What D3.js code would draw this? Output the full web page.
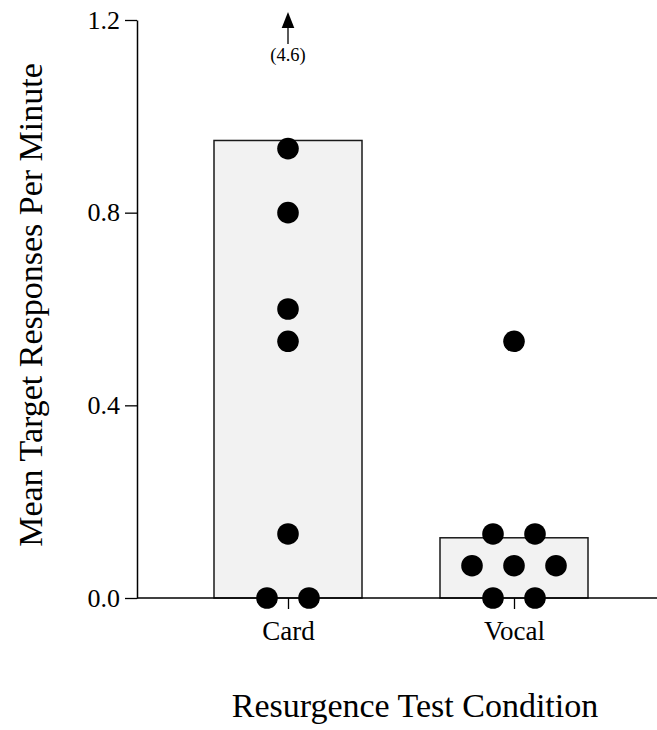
<!DOCTYPE html>
<html>
<head>
<meta charset="utf-8">
<script src="https://cdn.jsdelivr.net/npm/d3@7"></script>
<style>
  html, body { margin: 0; padding: 0; background: #fff; }
  svg { display: block; }
  text { font-family: "Liberation Serif", "Times New Roman", serif; fill: #000; }
</style>
</head>
<body>
<svg id="chart" width="657" height="730"></svg>
<script>
// Resurgence test: individual subject rates per condition
const categories = ["Card", "Vocal"];
const cardValues = [4.6, 0.933, 0.8, 0.6, 0.533, 0.133, 0, 0];
const vocalValues = [0.533, 0.133, 0.133, 0.067, 0.067, 0.067, 0, 0];
const yTicks = [0, 0.4, 0.8, 1.2];
const yTickLabels = ["0.0", "0.4", "0.8", "1.2"];

const seriesByCategory = { Card: cardValues, Vocal: vocalValues };
const means = categories.map(c => ({ cat: c, mean: d3.mean(seriesByCategory[c]) }));

const svg = d3.select("#chart");
const plotLeft = 137, plotRight = 657, plotTop = 20, plotBottom = 598;
const yMax = 1.2;

const y = d3.scaleLinear().domain([0, yMax]).range([plotBottom, plotTop]);
const x = d3.scalePoint().domain(categories).range([288, 514]);
const barHalf = 74;
const r = 10.8;
const spread = 42;   // horizontal gap between coinciding points

// bars at the condition means
svg.selectAll("rect.bar").data(means).join("rect")
  .attr("class", "bar")
  .attr("x", d => x(d.cat) - barHalf)
  .attr("width", barHalf * 2)
  .attr("y", d => y(d.mean))
  .attr("height", d => y(0) - y(d.mean))
  .attr("fill", "#f2f2f2")
  .attr("stroke", "#1a1a1a")
  .attr("stroke-width", 1.5);

// x axis line and ticks
svg.append("line")
  .attr("x1", plotLeft).attr("x2", plotRight)
  .attr("y1", plotBottom).attr("y2", plotBottom)
  .attr("stroke", "#000").attr("stroke-width", 1.5);

const xAxis = svg.append("g").attr("transform", `translate(0,${plotBottom})`)
  .call(d3.axisBottom(x).tickSize(11).tickPadding(12));
xAxis.select(".domain").remove();
xAxis.selectAll(".tick line").attr("stroke", "#000").attr("stroke-width", 1.3);
xAxis.selectAll(".tick text")
  .style("font-family", "Liberation Serif").style("font-size", "27px");

// y axis
const yAxis = svg.append("g").attr("transform", `translate(${plotLeft},0)`)
  .call(d3.axisLeft(y).tickValues(yTicks).tickFormat((d, i) => yTickLabels[i])
    .tickSize(12).tickPadding(5).tickSizeOuter(0));
yAxis.select(".domain").attr("stroke", "#000").attr("stroke-width", 1.5);
yAxis.selectAll(".tick line").attr("stroke", "#000").attr("stroke-width", 1.3);
yAxis.selectAll(".tick text")
  .style("font-family", "Liberation Serif").style("font-size", "26px");

// individual points, spread sideways where values coincide
const points = [];
categories.forEach(c => {
  const vals = seriesByCategory[c];
  const groups = d3.group(vals, v => v);
  groups.forEach((arr, v) => {
    const n = arr.length;
    arr.forEach((_, i) => points.push({ cat: c, value: v, offset: i - (n - 1) / 2 }));
  });
});

const shown = points.filter(p => p.value <= yMax);
const offScale = points.filter(p => p.value > yMax);

svg.selectAll("circle.pt").data(shown).join("circle")
  .attr("class", "pt")
  .attr("cx", d => x(d.cat) + d.offset * spread)
  .attr("cy", d => y(d.value))
  .attr("r", r)
  .attr("fill", "#000");

// values beyond the axis: arrow pointing up with the value in parentheses
offScale.forEach(p => {
  const cx = x(p.cat) + p.offset * spread;
  const g = svg.append("g");
  g.append("line")
    .attr("x1", cx).attr("x2", cx)
    .attr("y1", 26).attr("y2", 44)
    .attr("stroke", "#000").attr("stroke-width", 1.3);
  g.append("path")
    .attr("d", `M${cx},12 L${cx - 6.3},28 L${cx + 6.3},28 Z`)
    .attr("fill", "#000");
  g.append("text")
    .attr("x", cx).attr("y", 61)
    .attr("text-anchor", "middle")
    .style("font-size", "18.5px")
    .text(`(${p.value})`);
});

// axis titles
svg.append("text")
  .attr("x", 415).attr("y", 717)
  .attr("text-anchor", "middle")
  .style("font-size", "34px")
  .text("Resurgence Test Condition");

svg.append("text")
  .attr("transform", `translate(42,305) rotate(-90)`)
  .attr("text-anchor", "middle")
  .style("font-size", "34px")
  .text("Mean Target Responses Per Minute");
</script>
</body>
</html>
